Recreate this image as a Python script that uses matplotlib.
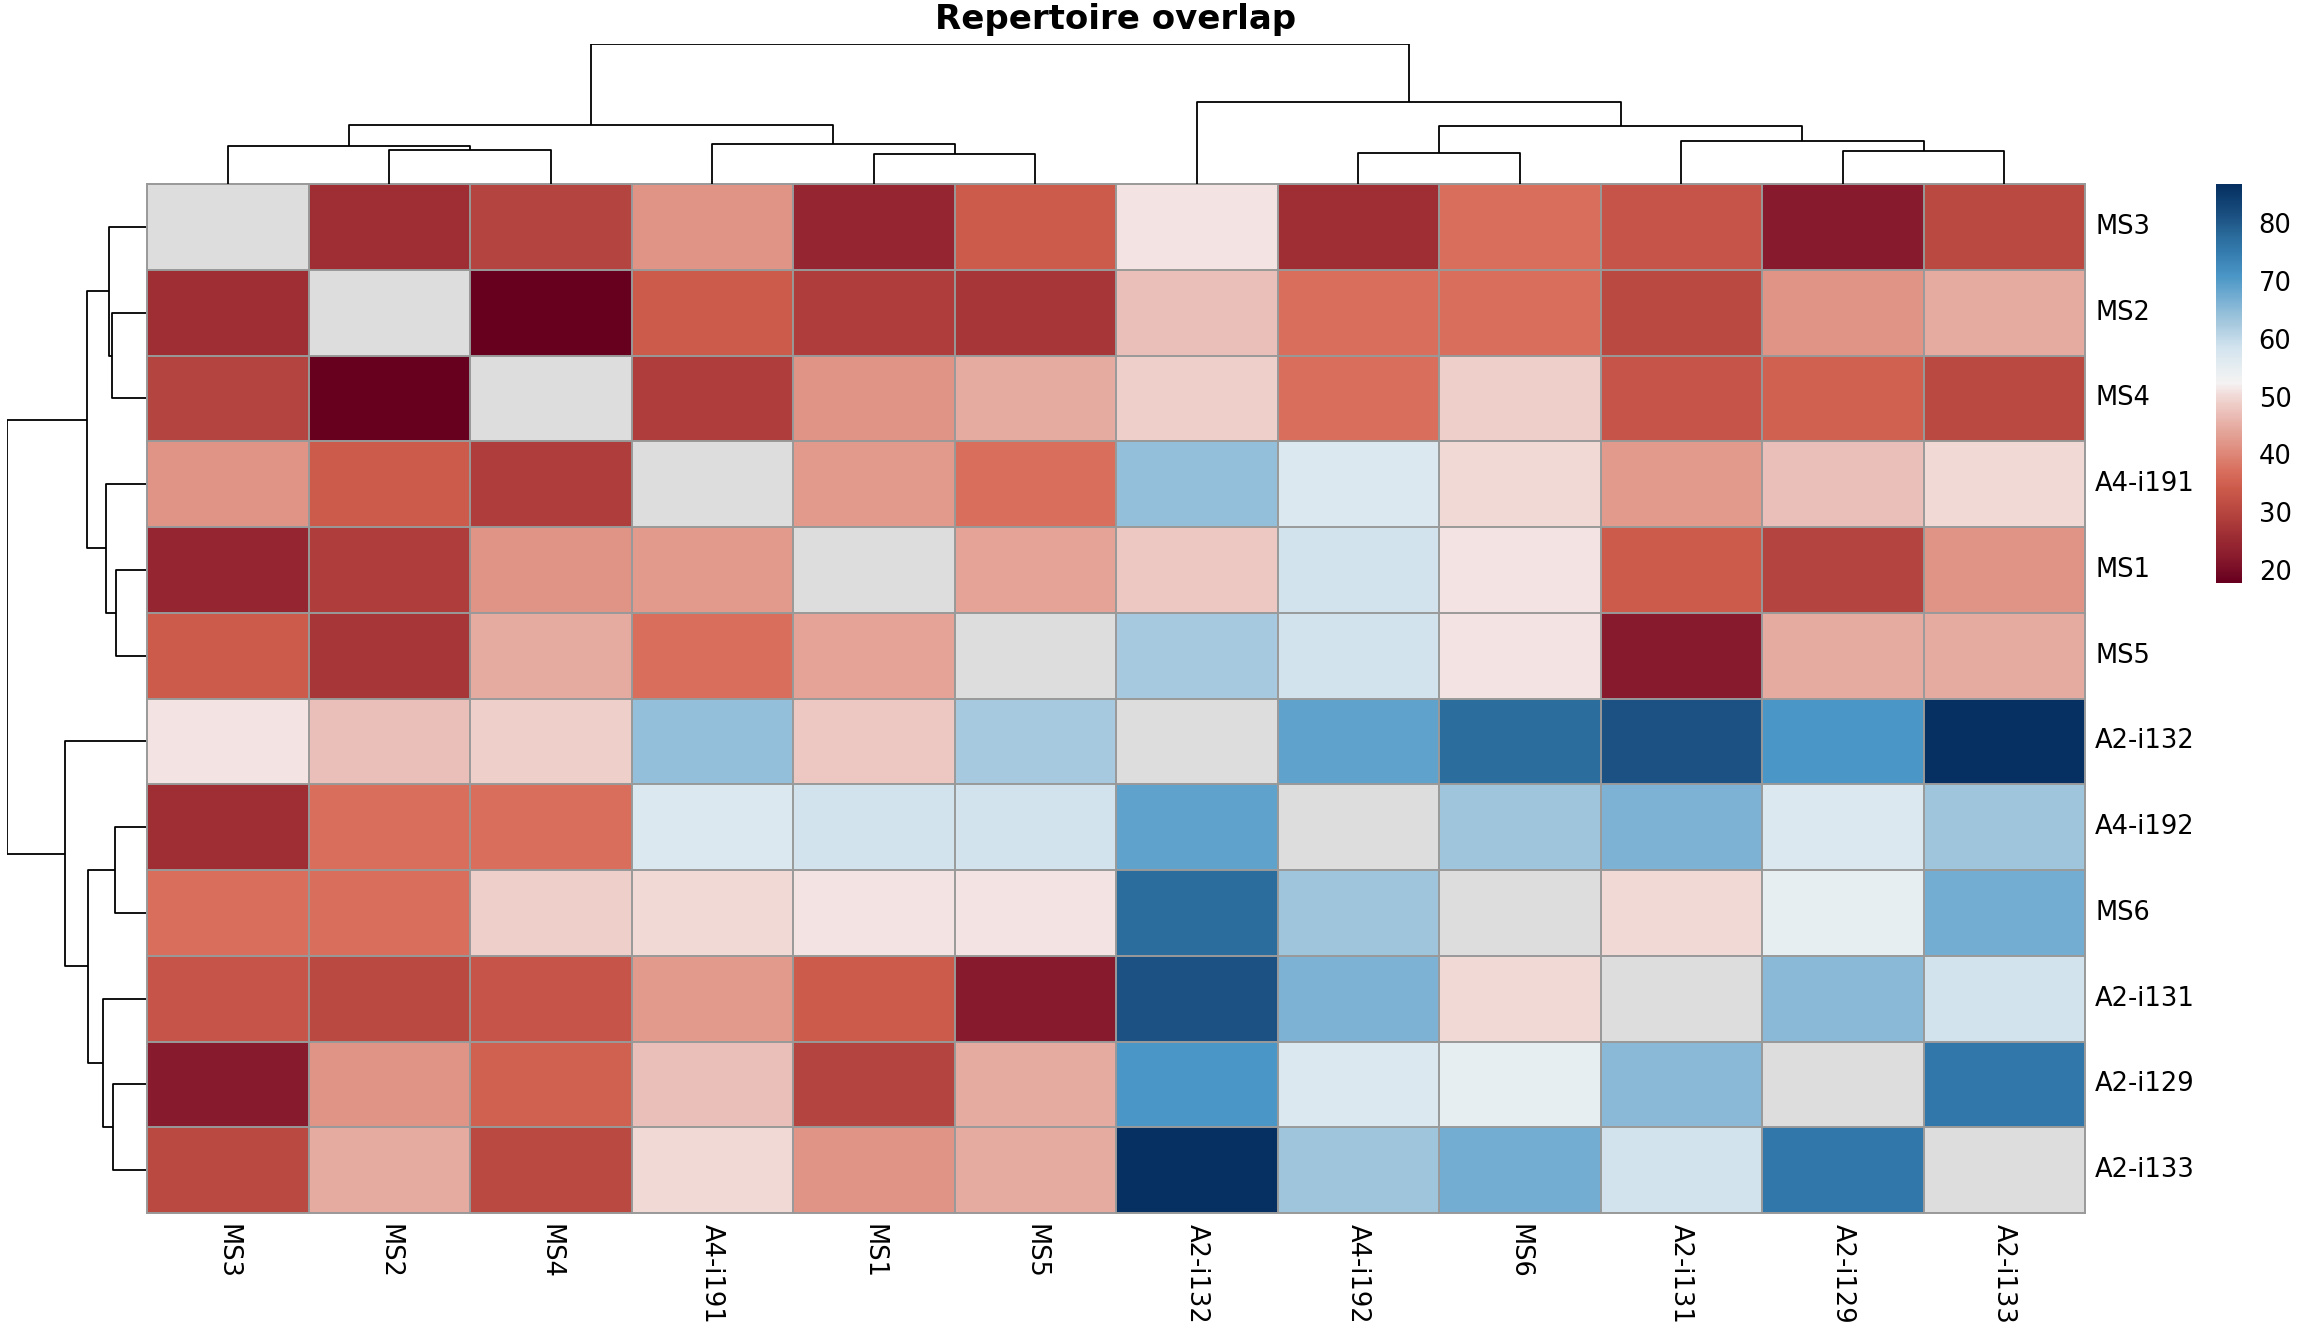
import numpy as np
import matplotlib.pyplot as plt
from matplotlib.colors import LinearSegmentedColormap

# ordre des echantillons apres clustering (lignes et colonnes)
samples = ["MS3", "MS2", "MS4", "A4-i191", "MS1", "MS5",
           "A2-i132", "A4-i192", "MS6", "A2-i131", "A2-i129", "A2-i133"]

nan = np.nan
overlap = np.array([
    [nan, 26, 29.5, 41.5, 24, 34, 51, 26, 37, 32.7, 22, 30.6],
    [26, nan, 17.8, 34, 28.4, 27.3, 47, 37, 37, 30.6, 41.5, 44.6],
    [29.5, 17.8, nan, 28.4, 41.5, 44.6, 49, 37, 49, 32.7, 35, 30.6],
    [41.5, 34, 28.4, nan, 42.5, 37, 64.4, 57, 50, 42.5, 47, 50],
    [24, 28.4, 41.5, 42.5, nan, 43.5, 48, 58.7, 51, 34, 29.5, 41.5],
    [34, 27.3, 44.6, 37, 43.5, nan, 62.5, 58.7, 51, 22, 44.6, 44.6],
    [51, 47, 49, 64.4, 48, 62.5, nan, 69, 77.6, 81.3, 71, 86.7],
    [26, 37, 37, 57, 58.7, 58.7, 69, nan, 63.5, 66.3, 57, 63.5],
    [37, 37, 49, 50, 51, 51, 77.6, 63.5, nan, 50, 55, 67.2],
    [32.7, 30.6, 32.7, 42.5, 34, 22, 81.3, 66.3, 50, nan, 65.4, 58.7],
    [22, 41.5, 35, 47, 29.5, 44.6, 71, 57, 55, 65.4, nan, 75.7],
    [30.6, 44.6, 30.6, 50, 41.5, 44.6, 86.7, 63.5, 67.2, 58.7, 75.7, nan],
])

# fusions du clustering hierarchique : (gauche, droite, hauteur), noeuds internes a partir de 12
merges_col = [(1, 2, 101), (0, 12, 112), (4, 5, 90), (3, 14, 119), (13, 15, 176),
              (7, 8, 93), (10, 11, 98), (9, 18, 128), (17, 19, 174), (6, 20, 245),
              (16, 21, 418)]
merges_row = [(1, 2, 101), (0, 12, 112), (4, 5, 90), (3, 14, 120), (13, 15, 176),
              (7, 8, 92), (10, 11, 98), (9, 18, 129), (17, 19, 175), (6, 20, 245),
              (16, 21, 418)]

cbar_ticks = [20, 30, 40, 50, 60, 70, 80]
vmin, vmax = 17.8, 86.7

# palette rouge-bleu (blanc au milieu)
pal = [(17.8, "#67001F"), (21.9, "#881A2D"), (26.2, "#A03035"), (29.5, "#B5443F"),
       (33.8, "#CC5A4B"), (37.1, "#D96F5E"), (41.4, "#E09385"), (44.6, "#E6ABA0"),
       (46.8, "#EBBDB7"), (49.0, "#EFD0CB"), (51.1, "#F3E4E3"), (52.25, "#F5F3F3"),
       (55.0, "#E6EEF2"), (56.9, "#DCE8F0"), (58.7, "#D1E3EE"), (62.5, "#A8CADF"),
       (64.4, "#95C0DA"), (66.3, "#7FB3D5"), (69.1, "#5FA2CC"), (71.0, "#4A96C6"),
       (75.7, "#3278AA"), (77.6, "#2C6E9E"), (81.3, "#1C5283"), (86.7, "#053061")]
cmap = LinearSegmentedColormap.from_list(
    "rdbu_perso", [((v - vmin) / (vmax - vmin), c) for v, c in pal])

W, H = 2304, 1344
fig = plt.figure(figsize=(W / 100, H / 100), dpi=100)

def px_axes(x0, y0, x1, y1):
    # axes a partir de coordonnees pixels (origine en haut a gauche)
    return fig.add_axes([x0 / W, 1 - y1 / H, (x1 - x0) / W, (y1 - y0) / H])

hx0, hx1, hy0, hy1 = 147, 2085, 184, 1213
n = len(samples)
fs = 18.5

ax = px_axes(hx0, hy0, hx1, hy1)
ax.set_facecolor("#DDDDDD")
ax.pcolormesh(np.arange(n + 1), np.arange(n + 1), np.ma.masked_invalid(overlap),
              cmap=cmap, vmin=vmin, vmax=vmax)
ax.set_xlim(0, n)
ax.set_ylim(n, 0)
for k in range(n + 1):
    ax.axhline(k, color="#999999", lw=1.4, clip_on=False)
    ax.axvline(k, color="#999999", lw=1.4, clip_on=False)
ax.set_xticks([])
ax.set_yticks([])
for s in ax.spines.values():
    s.set_visible(False)

for i, name in enumerate(samples):
    ax.text(n + 0.062, i + 0.5, name, fontsize=fs, va="center", ha="left")
    ax.text(i + 0.5, n + 0.13, name, fontsize=fs, rotation=270,
            va="top", ha="center")


def dendro(axd, merges, horizontal):
    pos = {i: (i + 0.5, 0.0) for i in range(n)}
    for k, (a, b, h) in enumerate(merges):
        xa, ha = pos[a]
        xb, hb = pos[b]
        xs = [xa, xa, xb, xb]
        hs = [ha, h, h, hb]
        if horizontal:
            axd.plot(hs, xs, color="black", lw=1.3, solid_capstyle="butt")
        else:
            axd.plot(xs, hs, color="black", lw=1.3, solid_capstyle="butt")
        pos[n + k] = ((xa + xb) / 2, h)
    axd.axis("off")


top_max = max(m[2] for m in merges_col)
axc = px_axes(hx0, 44, hx1, hy0)
dendro(axc, merges_col, False)
axc.set_xlim(0, n)
axc.set_ylim(0, top_max)

row_max = max(m[2] for m in merges_row)
axr = px_axes(7, hy0, hx0 - 1, hy1)
dendro(axr, merges_row, True)
axr.set_ylim(n, 0)
axr.set_xlim(row_max, 0)

# legende de couleur
axb = px_axes(2216, 184, 2242, 583)
grad = np.linspace(vmin, vmax, 300).reshape(-1, 1)
axb.imshow(grad, cmap=cmap, vmin=vmin, vmax=vmax, aspect="auto", origin="lower",
           extent=(0, 1, vmin, vmax))
axb.set_xticks([])
axb.yaxis.tick_right()
axb.set_yticks(cbar_ticks)
axb.set_yticklabels([str(t) for t in cbar_ticks], fontsize=fs)
axb.tick_params(axis="y", length=0, pad=12)
for s in axb.spines.values():
    s.set_visible(False)

fig.text((hx0 + hx1) / 2 / W, 1 - 29 / H, "Repertoire overlap", fontsize=24.5,
         fontweight="bold", ha="center", va="baseline")

fig.savefig("out.png", dpi=100)
